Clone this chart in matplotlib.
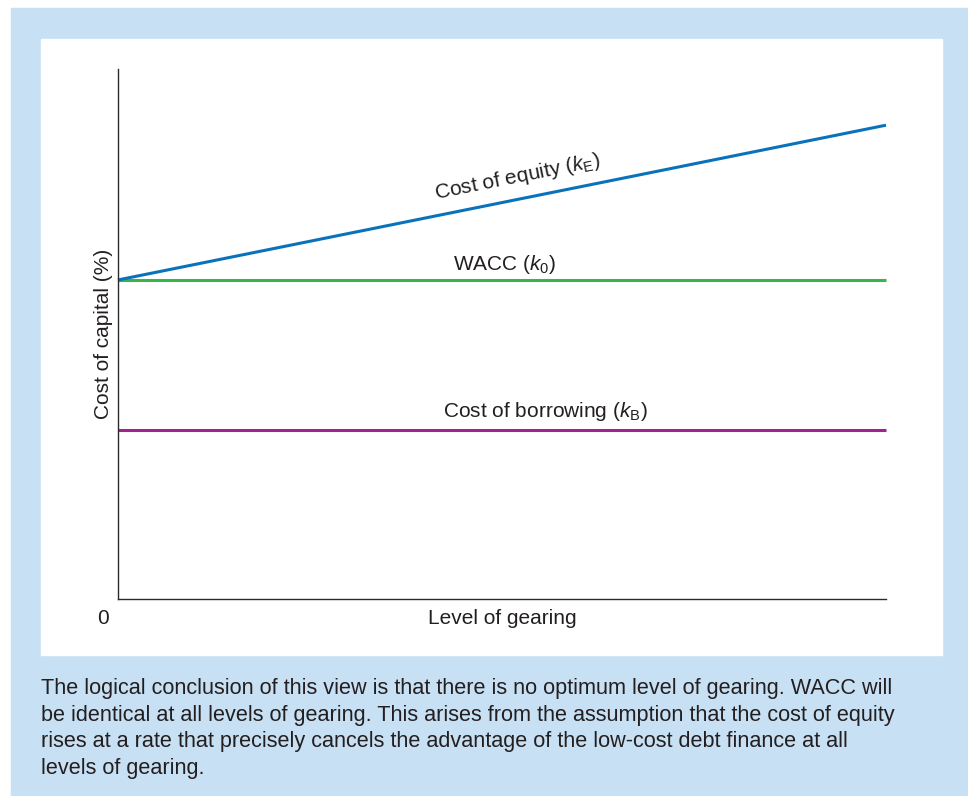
import matplotlib
matplotlib.use("Agg")
import matplotlib.pyplot as plt
from matplotlib.patches import Rectangle

plt.rcParams['font.family'] = ['Liberation Sans', 'DejaVu Sans']
plt.rcParams['mathtext.fontset'] = 'custom'
plt.rcParams['mathtext.rm'] = 'Liberation Sans'
plt.rcParams['mathtext.it'] = 'Liberation Sans:italic'

# data (level of gearing 0..100, cost of capital in arbitrary %)
gearing = [0, 100]
cost_equity = [60.2, 89.4]
wacc = [60.2, 60.2]
cost_borrowing = [31.9, 31.9]

caption_lines = [
    "The logical conclusion of this view is that there is no optimum level of gearing. WACC will",
    "be identical at all levels of gearing. This arises from the assumption that the cost of equity",
    "rises at a rate that precisely cancels the advantage of the low-cost debt finance at all",
    "levels of gearing.",
]

W, H = 968, 796
fig = plt.figure(figsize=(W / 100, H / 100), dpi=100)
fig.patch.set_facecolor('white')

# light blue box and white panel
fig.add_artist(Rectangle((11 / W, 0), (W - 11) / W, (H - 8) / H,
                         transform=fig.transFigure, color='#c8e0f3', zorder=0))
fig.add_artist(Rectangle((41 / W, (H - 655) / H), 901 / W, 616 / H,
                         transform=fig.transFigure, color='white', zorder=0))

ax = fig.add_axes([118 / W, (H - 599) / H, 768 / W, 530 / H])
ax.set_facecolor('none')
ax.set_xlim(0, 100)
ax.set_ylim(0, 100)

blue = '#0a72ba'
green = '#3ab54a'
purple = '#a3238e'
txt = '#231f20'

ax.plot(gearing, cost_borrowing, color=purple, lw=2.2, solid_capstyle='butt', clip_on=False)
ax.plot(gearing, wacc, color=green, lw=2.2, solid_capstyle='butt', clip_on=False)
ax.plot(gearing, cost_equity, color=blue, lw=2.2, solid_capstyle='butt', clip_on=False)

ax.text(52.0, 79.6, r'Cost of equity ($k_\mathrm{E}$)', rotation=11.4,
        ha='center', va='center', fontsize=15, color=txt)
ax.text(50.4, 63.2, r'WACC ($k_0$)', ha='center', va='center', fontsize=15, color=txt)
ax.text(55.6, 35.3, r'Cost of borrowing ($k_\mathrm{B}$)', ha='center', va='center',
        fontsize=15, color=txt)

for s in ['top', 'right']:
    ax.spines[s].set_visible(False)
for s in ['left', 'bottom']:
    ax.spines[s].set_color('#2a2a2a')
    ax.spines[s].set_linewidth(1.0)
ax.set_xticks([])
ax.set_yticks([])

ax.text(-0.0195, -0.036, '0', transform=ax.transAxes, ha='center', va='center',
        fontsize=15, color=txt)
ax.text(0.5, -0.036, 'Level of gearing', transform=ax.transAxes, ha='center',
        va='center', fontsize=15, color=txt)
ax.text(-0.0195, 0.5, 'Cost of capital (%)', transform=ax.transAxes, rotation=90,
        ha='center', va='center', fontsize=15, color=txt)

# caption
for i, line in enumerate(caption_lines):
    fig.text(41 / W, (H - 694 - i * 26.7) / H, line, ha='left', va='baseline',
             fontsize=15.6, color=txt)

fig.savefig('out.png', dpi=100)
